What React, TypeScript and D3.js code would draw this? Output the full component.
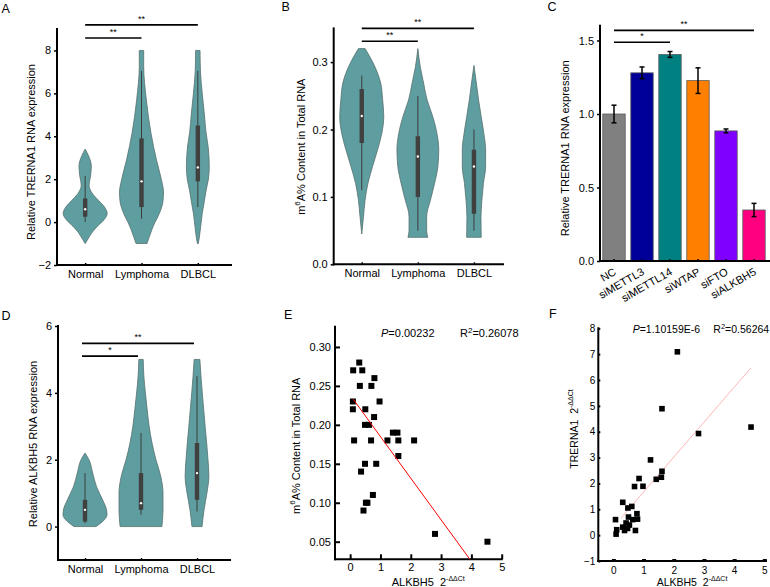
import { useEffect, useRef } from "react";
import * as d3 from "d3";

const FONT = "'Liberation Sans', Arial, Helvetica, sans-serif";
const VIOLIN_FILL = "#5f9ea0";

const groups = ["Normal", "Lymphoma", "DLBCL"];

// A: relative TRERNA1 expression, violin outline as [value, relative half width]
const trernaNormal = [[3.4, 0], [3.1, 0.15], [2.6, 0.28], [2.2, 0.25], [1.7, 0.18], [1.3, 0.35], [1.0, 0.62], [0.7, 0.88], [0.4, 1.0], [0.1, 0.85], [-0.2, 0.55], [-0.5, 0.3], [-0.8, 0.12], [-1.0, 0]];
const trernaLymphoma = [[8, 0.1], [7.26, 0.1], [5.7, 0.22], [4.15, 0.43], [2.9, 0.68], [2.0, 0.9], [1.4, 1.0], [1.0, 0.98], [0.5, 0.85], [0.26, 0.75], [0, 0.62], [-0.36, 0.47], [-0.7, 0.35], [-1, 0.25]];
const trernaDlbcl = [[8, 0.1], [7, 0.12], [6, 0.2], [5, 0.3], [4.2, 0.37], [3.5, 0.47], [2.6, 0.52], [2.0, 0.48], [1.5, 0.38], [1.0, 0.3], [0.4, 0.2], [-0.2, 0.13], [-0.7, 0.07], [-1.0, 0.02]];
// [whisker low, q1, median, q3, whisker high]
const trernaBoxes = [[0.0, 0.25, 0.6, 1.1, 2.15], [0.15, 0.7, 1.9, 3.9, 7.05], [0.7, 1.9, 2.55, 4.5, 7.05]];
const trernaTicks = [-2, 0, 2, 4, 6, 8];
const trernaSig = [["Normal", "Lymphoma", 8.58, "**"], ["Normal", "DLBCL", 9.19, "**"]];

// B: m6A % content
const m6aNormal = [[0.32, 0.15], [0.293, 0.6], [0.269, 0.86], [0.244, 0.95], [0.219, 1.0], [0.194, 0.91], [0.17, 0.72], [0.145, 0.49], [0.12, 0.28], [0.095, 0.15], [0.071, 0.08], [0.045, 0]];
const m6aLymphoma = [[0.32, 0], [0.293, 0.11], [0.269, 0.26], [0.244, 0.42], [0.219, 0.68], [0.194, 0.87], [0.17, 0.95], [0.145, 0.91], [0.12, 0.76], [0.095, 0.57], [0.071, 0.4], [0.05, 0.4], [0.04, 0.45]];
const m6aDlbcl = [[0.295, 0], [0.269, 0.11], [0.244, 0.21], [0.219, 0.33], [0.194, 0.45], [0.17, 0.53], [0.145, 0.53], [0.12, 0.43], [0.095, 0.36], [0.071, 0.32], [0.04, 0.33]];
const m6aBoxes = [[0.11, 0.18, 0.22, 0.26, 0.28], [0.05, 0.1, 0.16, 0.19, 0.25], [0.05, 0.075, 0.145, 0.17, 0.2]];
const m6aTicks = [0, 0.1, 0.2, 0.3];
const m6aSig = [["Normal", "Lymphoma", 0.331, "**"], ["Normal", "DLBCL", 0.35, "**"]];

// C: knockdown bars
const knockdowns = ["NC", "siMETTL3", "siMETTL14", "siWTAP", "siFTO", "siALKBH5"];
const knockdownMeans = [1.0, 1.28, 1.405, 1.227, 0.885, 0.347];
const knockdownErrors = [0.06, 0.04, 0.02, 0.087, 0.013, 0.045];
const knockdownColors = ["#808080", "#000099", "#008080", "#ff8000", "#8000ff", "#ff0080"];
const knockdownTicks = [0, 0.5, 1.0, 1.5];
const knockdownSig = [["NC", "siMETTL14", 1.488, "*"], ["NC", "siALKBH5", 1.569, "**"]];

// D: relative ALKBH5 expression
const alkbhNormal = [[2.2, 0], [2.0, 0.18], [1.6, 0.35], [1.2, 0.52], [0.8, 0.8], [0.5, 0.98], [0.35, 1.0], [0.15, 0.8], [0.0, 0.5]];
const alkbhLymphoma = [[5, 0.1], [4.5, 0.13], [4, 0.2], [3.5, 0.28], [3, 0.37], [2.5, 0.5], [2, 0.68], [1.5, 0.9], [1.0, 1.0], [0.5, 1.0], [0, 0.95]];
const alkbhDlbcl = [[5, 0.13], [4.5, 0.18], [4, 0.24], [3, 0.37], [2, 0.5], [1.5, 0.54], [1, 0.45], [0.5, 0.32], [0, 0.23]];
const alkbhBoxes = [[0.1, 0.15, 0.5, 0.8, 1.6], [0.35, 0.5, 0.7, 1.6, 2.8], [0.45, 0.8, 1.6, 2.5, 4.5]];
const alkbhTicks = [0, 2, 4, 6];
const alkbhSig = [["Normal", "Lymphoma", 5.1, "*"], ["Normal", "DLBCL", 5.48, "**"]];

// E: ALKBH5 vs m6A content
const eAlkbh = [0.1, 0.3, 0.4, 0.32, 0.8, 0.7, 0.09, 0.09, 0.5, 0.97, 0.79, 0.49, 0.62, 0.13, 0.69, 0.49, 0.86, 0.36, 0.75, 0.52, 0.57, 0.44, 1.23, 1.41, 1.56, 1.59, 1.59, 2.11, 2.8, 4.53];
const eM6a = [0.27, 0.28, 0.27, 0.25, 0.26, 0.25, 0.23, 0.22, 0.22, 0.23, 0.21, 0.2, 0.2, 0.18, 0.18, 0.15, 0.15, 0.14, 0.11, 0.1, 0.1, 0.09, 0.18, 0.19, 0.19, 0.18, 0.16, 0.18, 0.06, 0.05];
const eFit = { intercept: 0.2383, slope: -0.0534, from: 0.1, to: 3.95 };

// F: ALKBH5 vs TRERNA1
const fAlkbh = [2.12, 1.61, 2.82, 4.56, 1.23, 1.61, 1.42, 1.59, 0.85, 0.7, 0.98, 0.31, 0.48, 0.61, 0.07, 0.5, 0.78, 0.8, 0.64, 0.11, 0.09, 0.31, 0.37, 0.47, 0.53, 0.73, 0.42];
const fTrerna = [7.09, 4.89, 3.93, 4.18, 2.91, 2.47, 2.16, 2.24, 2.19, 1.88, 1.89, 1.27, 1.05, 1.11, 0.6, 0.7, 0.83, 0.62, 0.6, 0.21, 0.04, 0.31, 0.18, 0.26, 0.39, 0.18, 0.47];
const fFit = { intercept: 0.315, slope: 1.351, from: 0.25, to: 4.55 };

export default function App() {
  const ref = useRef<SVGSVGElement>(null);

  useEffect(() => {
    const svg = d3.select(ref.current);
    svg.selectAll("*").remove();

    const styleAxis = (ax: any, size: number, tickWidth = 1.5) => {
      ax.select(".domain").remove();
      ax.selectAll("text").attr("font-family", FONT).attr("font-size", size).attr("fill", "#000");
      ax.selectAll(".tick line").attr("stroke", "#000").attr("stroke-width", tickWidth);
    };
    const axisLine = (x1: number, y1: number, x2: number, y2: number) =>
      svg.append("line").attr("x1", x1).attr("y1", y1).attr("x2", x2).attr("y2", y2)
        .attr("stroke", "#000").attr("stroke-width", 2).attr("stroke-linecap", "square");
    const letter = (t: string, x: number, y: number) =>
      svg.append("text").attr("x", x).attr("y", y).attr("font-family", FONT).attr("font-size", 12.5).text(t);
    const yTitle = (cx: number, cy: number, size = 11) =>
      svg.append("text").attr("transform", `translate(${cx},${cy}) rotate(-90)`)
        .attr("text-anchor", "middle").attr("dominant-baseline", "middle")
        .attr("font-family", FONT).attr("font-size", size);
    const m6aTitle = (cx: number, cy: number) => {
      const t = yTitle(cx, cy);
      t.append("tspan").text("m");
      t.append("tspan").attr("dy", -4).attr("font-size", 8).text("6");
      t.append("tspan").attr("dy", 4).text("A% Content in Total RNA");
    };
    const sigBar = (x1: number, x2: number, y: number, label: string) => {
      svg.append("line").attr("x1", x1).attr("x2", x2).attr("y1", y).attr("y2", y)
        .attr("stroke", "#000").attr("stroke-width", 1.6);
      svg.append("text").attr("x", (x1 + x2) / 2).attr("y", y - 3).attr("text-anchor", "middle")
        .attr("font-family", FONT).attr("font-size", 9).text(label);
    };

    const violinPanel = (p: any) => {
      const x = d3.scalePoint().domain(groups).range(p.catRange).padding(0.5);
      const [yb, yt] = p.y.range();
      const yAx = svg.append("g").attr("transform", `translate(${p.xLeft},0)`)
        .call(d3.axisLeft(p.y).tickValues(p.ticks).tickSize(3).tickPadding(3).tickFormat(p.fmt));
      styleAxis(yAx, 11);
      const xAx = svg.append("g").attr("transform", `translate(0,${yb})`)
        .call(d3.axisBottom(x).tickSize(-2).tickPadding(5).tickSizeOuter(0));
      styleAxis(xAx, 11);
      axisLine(p.xLeft, yt, p.xLeft, yb);
      axisLine(p.xLeft, yb, p.xRight, yb);

      const w = d3.scaleLinear().domain([0, 1]).range([0, p.maxHalf]);
      p.violins.forEach((prof: number[][], i: number) => {
        const cx = x(groups[i]) as number;
        const area = d3.area<number[]>()
          .y((d) => p.y(d[0]))
          .x0((d) => cx - w(d[1]))
          .x1((d) => cx + w(d[1]))
          .curve(d3.curveMonotoneY);
        svg.append("path").attr("d", area(prof)).attr("fill", VIOLIN_FILL)
          .attr("stroke", "#56706f").attr("stroke-width", 0.8);
        const [lo, q1, med, q3, hi] = p.boxes[i];
        svg.append("line").attr("x1", cx).attr("x2", cx).attr("y1", p.y(lo)).attr("y2", p.y(hi))
          .attr("stroke", "#3c3c3c").attr("stroke-width", 1);
        svg.append("rect").attr("x", cx - 2.2).attr("width", 4.4)
          .attr("y", p.y(q3)).attr("height", p.y(q1) - p.y(q3)).attr("fill", "#404040");
        svg.append("circle").attr("cx", cx).attr("cy", p.y(med)).attr("r", 1.2).attr("fill", "#fff");
      });

      p.sigs.forEach(([a, b, v, label]: any) => {
        sigBar((x(a) as number) + p.sigShift, (x(b) as number) + p.sigShift, p.y(v), label);
      });
    };

    // ---------- A ----------
    violinPanel({
      xLeft: 57, xRight: 231, catRange: [57, 226],
      y: d3.scaleLinear().domain([-2, 9]).range([265, 29]),
      ticks: trernaTicks, fmt: d3.format("d"), maxHalf: 22,
      violins: [trernaNormal, trernaLymphoma, trernaDlbcl], boxes: trernaBoxes,
      sigs: trernaSig, sigShift: 0,
    });
    yTitle(32.5, 152).text("Relative TRERNA1 RNA expression");
    letter("A", 1.5, 13);

    // ---------- B ----------
    violinPanel({
      xLeft: 333.7, xRight: 503, catRange: [333.7, 502],
      y: d3.scaleLinear().domain([0, 0.35]).range([264.3, 28.4]),
      ticks: m6aTicks, fmt: d3.format(".1f"), maxHalf: 22,
      violins: [m6aNormal, m6aLymphoma, m6aDlbcl], boxes: m6aBoxes,
      sigs: m6aSig, sigShift: 0,
    });
    m6aTitle(301.7, 146.7);
    letter("B", 281.5, 11);

    // ---------- C ----------
    const xC = d3.scaleBand().domain(knockdowns).range([600, 768]).paddingInner(0.2).paddingOuter(0.1);
    const yC = d3.scaleLinear().domain([0, 1.6]).range([261, 25.8]);
    const cY = svg.append("g").attr("transform", "translate(600,0)")
      .call(d3.axisLeft(yC).tickValues(knockdownTicks).tickSize(3).tickPadding(3).tickFormat(d3.format(".1f")));
    styleAxis(cY, 11);
    knockdowns.forEach((k, i) => {
      const bx = xC(k) as number;
      svg.append("rect").attr("x", bx).attr("width", xC.bandwidth())
        .attr("y", yC(knockdownMeans[i])).attr("height", yC(0) - yC(knockdownMeans[i]))
        .attr("fill", knockdownColors[i]).attr("stroke", "#5a5a5a").attr("stroke-width", 0.8);
      const cx = bx + xC.bandwidth() / 2;
      const top = yC(knockdownMeans[i] + knockdownErrors[i]);
      const bot = yC(knockdownMeans[i] - knockdownErrors[i]);
      svg.append("line").attr("x1", cx).attr("x2", cx).attr("y1", top).attr("y2", bot)
        .attr("stroke", "#000").attr("stroke-width", 1.5);
      [top, bot].forEach((yy) =>
        svg.append("line").attr("x1", cx - 2.5).attr("x2", cx + 2.5).attr("y1", yy).attr("y2", yy)
          .attr("stroke", "#000").attr("stroke-width", 1.5));
    });
    const cX = svg.append("g").attr("transform", "translate(0,261)")
      .call(d3.axisBottom(xC).tickSize(-2).tickSizeOuter(0));
    styleAxis(cX, 11);
    cX.selectAll("text").attr("y", 0).attr("dy", 0).attr("text-anchor", "end")
      .attr("transform", "translate(3,13) rotate(-30)");
    axisLine(600, 25.8, 600, 261);
    axisLine(600, 261, 770, 261);
    knockdownSig.forEach(([a, b, v, label]: any) => {
      const c = xC.bandwidth() / 2;
      sigBar((xC(a) as number) + c, (xC(b) as number) + c, yC(v), label);
    });
    yTitle(565.7, 148.3).text("Relative TRERNA1 RNA expression");
    letter("C", 547.5, 11);

    // ---------- D ----------
    violinPanel({
      xLeft: 58, xRight: 230, catRange: [57, 225],
      y: d3.scaleLinear().domain([-1, 6]).range([560, 326]),
      ticks: alkbhTicks, fmt: d3.format("d"), maxHalf: 22,
      violins: [alkbhNormal, alkbhLymphoma, alkbhDlbcl], boxes: alkbhBoxes,
      sigs: alkbhSig, sigShift: -3,
    });
    yTitle(34, 444).text("Relative ALKBH5 RNA expression");
    letter("D", 1.5, 319.5);

    // ---------- E ----------
    const xE = d3.scaleLinear().domain([-0.5, 5]).range([335, 501.7]);
    const yE = d3.scaleLinear().domain([0.0274, 0.326]).range([559.3, 326.7]);
    const eY = svg.append("g").attr("transform", "translate(335,0)")
      .call(d3.axisLeft(yE).tickValues([0.05, 0.1, 0.15, 0.2, 0.25, 0.3]).tickSize(-5).tickPadding(4).tickFormat(d3.format(".2f")));
    styleAxis(eY, 11, 2);
    const eX = svg.append("g").attr("transform", "translate(0,559.3)")
      .call(d3.axisBottom(xE).tickValues([0, 1, 2, 3, 4, 5]).tickSize(-5).tickPadding(4).tickFormat(d3.format("d")));
    styleAxis(eX, 11, 2);
    axisLine(335, 326.7, 335, 559.3);
    axisLine(335, 559.3, 501.7, 559.3);
    eAlkbh.forEach((v, i) =>
      svg.append("rect").attr("x", xE(v) - 3).attr("y", yE(eM6a[i]) - 3).attr("width", 6).attr("height", 6).attr("fill", "#000"));
    svg.append("line")
      .attr("x1", xE(eFit.from)).attr("y1", yE(eFit.intercept + eFit.slope * eFit.from))
      .attr("x2", xE(eFit.to)).attr("y2", yE(eFit.intercept + eFit.slope * eFit.to))
      .attr("stroke", "#ff0000").attr("stroke-width", 1);
    const eAnn = svg.append("text").attr("x", 381).attr("y", 336.7).attr("font-family", FONT).attr("font-size", 11);
    eAnn.append("tspan").attr("font-style", "italic").text("P");
    eAnn.append("tspan").text("=0.00232");
    eAnn.append("tspan").attr("x", 460).text("R");
    eAnn.append("tspan").attr("dy", -4).attr("font-size", 8).text("2");
    eAnn.append("tspan").attr("dy", 4).text("=0.26078");
    m6aTitle(296.7, 445.8);
    const eXt = svg.append("text").attr("x", 391.7).attr("y", 585.5).attr("font-family", FONT).attr("font-size", 11);
    eXt.append("tspan").text("ALKBH5\u00a0\u00a02");
    eXt.append("tspan").attr("dy", -5).attr("font-size", 7).text("-ΔΔCt");
    letter("E", 284, 318.5);

    // ---------- F ----------
    const xF = d3.scaleLinear().domain([-0.5, 5]).range([598.3, 764.3]);
    const yF = d3.scaleLinear().domain([-1, 8]).range([561, 328.3]);
    const fY = svg.append("g").attr("transform", "translate(598.3,0)")
      .call(d3.axisLeft(yF).tickValues(d3.range(-1, 9)).tickSize(-2).tickPadding(3).tickFormat(d3.format("d")));
    styleAxis(fY, 10, 2);
    const fX = svg.append("g").attr("transform", "translate(0,561)")
      .call(d3.axisBottom(xF).tickValues([0, 1, 2, 3, 4, 5]).tickSize(-2).tickPadding(6).tickFormat(d3.format("d")));
    styleAxis(fX, 10, 4);
    axisLine(598.3, 328.3, 598.3, 561);
    axisLine(598.3, 561, 766, 561);
    svg.append("line")
      .attr("x1", xF(fFit.from)).attr("y1", yF(fFit.intercept + fFit.slope * fFit.from))
      .attr("x2", xF(fFit.to)).attr("y2", yF(fFit.intercept + fFit.slope * fFit.to))
      .attr("stroke", "#ffb8b8").attr("stroke-width", 1);
    fAlkbh.forEach((v, i) =>
      svg.append("rect").attr("x", xF(v) - 2.8).attr("y", yF(fTrerna[i]) - 2.8).attr("width", 5.6).attr("height", 5.6).attr("fill", "#000"));
    const fAnn = svg.append("text").attr("x", 632.7).attr("y", 333.3).attr("font-family", FONT).attr("font-size", 10.5);
    fAnn.append("tspan").attr("font-style", "italic").text("P");
    fAnn.append("tspan").text("=1.10159E-6");
    fAnn.append("tspan").attr("x", 713.3).text("R");
    fAnn.append("tspan").attr("dy", -4).attr("font-size", 7.5).text("2");
    fAnn.append("tspan").attr("dy", 4).text("=0.56264");
    const fYt = yTitle(575, 429, 10.5);
    fYt.append("tspan").text("TRERNA1\u00a0\u00a02");
    fYt.append("tspan").attr("dy", -4).attr("font-size", 7).text("-ΔΔCt");
    const fXt = svg.append("text").attr("x", 656.7).attr("y", 585.5).attr("font-family", FONT).attr("font-size", 10.5);
    fXt.append("tspan").text("ALKBH5\u00a0\u00a02");
    fXt.append("tspan").attr("dy", -5).attr("font-size", 7).text("-ΔΔCt");
    letter("F", 549, 317.5);
  }, []);

  return (
    <svg
      ref={ref}
      width={770}
      height={587}
      style={{ position: "absolute", left: 0, top: 0, background: "#fff", display: "block" }}
    />
  );
}
